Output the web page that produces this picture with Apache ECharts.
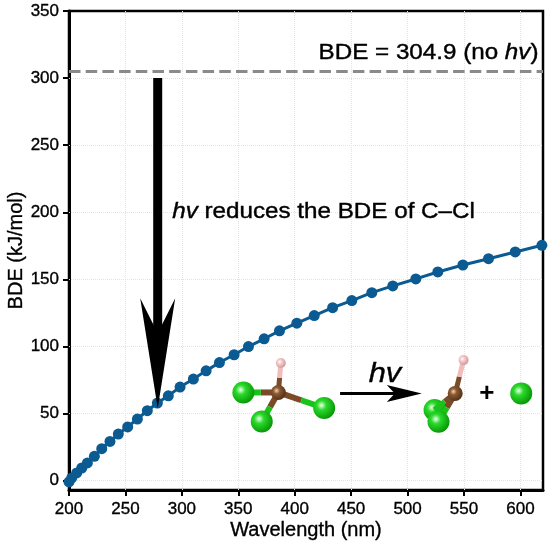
<!DOCTYPE html>
<html><head><meta charset="utf-8">
<script src="https://cdn.jsdelivr.net/npm/echarts@6/dist/echarts.min.js"></script>
<style>html,body{margin:0;padding:0;background:#fff}#c{width:550px;height:547px}</style>
</head><body><div id="c"></div>
<script>
// ---- data ----
const wavelength = [200, 202.4, 206.8, 211.3, 216.3, 222.5, 229, 236.3, 243.7, 252, 260.6, 269.4, 278.3, 288, 298.4, 310.2, 321.5, 333.3, 346.3, 359, 372.9, 386.5, 401.9, 417.3, 433.6, 450.6, 468.3, 486.9, 507.3, 526.8, 549, 571.7, 595.4, 619];
const bde = [-1, 2.0, 5.7, 9.4, 13.2, 18.1, 23.8, 29.2, 34.7, 40, 45.9, 52.1, 57.8, 63.2, 69.7, 75.7, 81.8, 88, 93.8, 99.9, 105.7, 111.6, 117.3, 123, 128.9, 134.2, 140.1, 145.1, 150.3, 155.5, 160.7, 165.4, 170.4, 175.4];
const xTicks = [200, 250, 300, 350, 400, 450, 500, 550, 600];
const yTicks = [0, 50, 100, 150, 200, 250, 300, 350];
const bdeNoLight = 304.9;
const labelNoLight = 'BDE = 304.9 (no {i|hv})';
const labelReduce = '{i|hv} reduces the BDE of C\u2013Cl';

const FONT = '"Liberation Sans", Arial, Helvetica, sans-serif';
const BLUE = '#0b5a91';

const chart = echarts.init(document.getElementById('c'));

const gridX = xTicks.filter(v => v > 200).map(v => ({ xAxis: v }));
const gridY = yTicks.filter(v => v < 350).map(v => ({ yAxis: v }));
const labelTextStyle = { fontSize: 17, color: '#000', fontFamily: FONT, textBorderColor: '#000', textBorderWidth: 0.35 };

chart.setOption({
  backgroundColor: '#fff',
  animation: false,
  grid: { left: 69, right: 7, top: 11, bottom: 57, show: true, borderColor: '#000', borderWidth: 2.5,
          containLabel: false, outerBoundsMode: 'none' },
  xAxis: {
    type: 'value', min: 200, max: 620,
    name: 'Wavelength (nm)', nameLocation: 'middle', nameGap: 30, nameMoveOverlap: false,
    nameTextStyle: { fontSize: 20, color: '#000', fontFamily: FONT, textBorderColor: '#000', textBorderWidth: 0.35 },
    axisLine: { show: true, onZero: false, lineStyle: { color: '#000', width: 3 } },
    axisTick: { show: true, inside: false, length: 6, customValues: xTicks, lineStyle: { color: '#000', width: 2 } },
    axisLabel: Object.assign({ margin: 11, customValues: xTicks }, labelTextStyle),
    splitLine: { show: false }
  },
  yAxis: {
    type: 'value', min: -7, max: 350,
    name: 'BDE (kJ/mol)', nameLocation: 'middle', nameGap: 43, nameMoveOverlap: false,
    nameTextStyle: { fontSize: 20, color: '#000', fontFamily: FONT, textBorderColor: '#000', textBorderWidth: 0.35 },
    axisLine: { show: true, onZero: false, lineStyle: { color: '#000', width: 3 } },
    axisTick: { show: true, inside: false, length: 6, customValues: yTicks, lineStyle: { color: '#000', width: 2 } },
    axisLabel: Object.assign({ margin: 10, customValues: yTicks }, labelTextStyle),
    splitLine: { show: false }
  },
  series: [
    {
      type: 'line', data: [], z: 1, silent: true,
      markLine: {
        z: 1, silent: true, symbol: 'none', label: { show: false }, animation: false,
        lineStyle: { color: '#e3e3e3', type: 'dotted', width: 1 },
        data: gridX.concat(gridY).concat([
          { yAxis: bdeNoLight, lineStyle: { color: '#8a8a8a', type: [11.5, 5.2], width: 3 } }
        ])
      }
    },
    {
      type: 'line', z: 3,
      data: wavelength.map((w, i) => [w, bde[i]]),
      symbol: 'circle', symbolSize: 11,
      lineStyle: { color: BLUE, width: 3 },
      itemStyle: { color: BLUE },
      clip: true
    }
  ]
});

// ---- annotations, positioned through the chart's scales ----
function P(x, y) { return chart.convertToPixel({ gridIndex: 0 }, [x, y]); }
const els = [];

// big downward arrow
(function () {
  const top = P(278.6, 300), tip = P(278.6, 54);
  const headLen = 110, headHalf = 17.5, notch = 75;
  els.push({ type: 'rect', z: 20, shape: { x: tip[0] - 4.5, y: top[1], width: 9, height: (tip[1] - notch + 4) - top[1] }, style: { fill: '#000' } });
  els.push({ type: 'polygon', z: 20, shape: { points: [[tip[0], tip[1]], [tip[0] - headHalf, tip[1] - headLen], [tip[0], tip[1] - notch], [tip[0] + headHalf, tip[1] - headLen]] }, style: { fill: '#000' } });
})();

function txt(x, y, text, size, align) {
  const p = P(x, y);
  els.push({
    type: 'text', z: 21, x: p[0], y: p[1], scaleX: 1.1, originX: 0, originY: 0,
    style: {
      text: text, fill: '#000', fontSize: size, fontFamily: FONT,
      stroke: '#000', lineWidth: 0.4,
      textAlign: align, textVerticalAlign: 'middle',
      rich: { i: { fontStyle: 'italic', fontSize: size, fontFamily: FONT, fill: '#000', stroke: '#000', lineWidth: 0.4 } }
    }
  });
}
txt(291.5, 200.3, labelReduce, 22, 'left');
txt(616, 318.5, labelNoLight, 22, 'right');

// molecules
const ATOM = {
  Cl: { r: 11, stops: ['#f0fff0', '#2ada2a', '#0a9a0a'], bond: '#19c419' },
  C: { r: 7.5, stops: ['#f5d2b0', '#8c5a32', '#56321a'], bond: '#7b4a26' },
  H: { r: 5, stops: ['#ffffff', '#f6cccc', '#d39a9a'], bond: '#f0bcbc' }
};
function atom(kind, x, y) {
  const p = P(x, y), a = ATOM[kind];
  els.push({ type: 'circle', z: 22, shape: { cx: p[0], cy: p[1], r: a.r },
    style: { fill: new echarts.graphic.RadialGradient(0.38, 0.38, 0.62, [
      { offset: 0, color: a.stops[0] }, { offset: 0.35, color: a.stops[1] }, { offset: 1, color: a.stops[2] }]) } });
}
function bond(k1, x1, y1, k2, x2, y2, w) {
  const p1 = P(x1, y1), p2 = P(x2, y2);
  const m = [(p1[0] + p2[0]) / 2, (p1[1] + p2[1]) / 2];
  els.push({ type: 'line', z: 22, shape: { x1: p1[0], y1: p1[1], x2: m[0], y2: m[1] }, style: { stroke: ATOM[k1].bond, lineWidth: w } });
  els.push({ type: 'line', z: 22, shape: { x1: m[0], y1: m[1], x2: p2[0], y2: p2[1] }, style: { stroke: ATOM[k2].bond, lineWidth: w } });
}
// left: CHCl3
const cL = [385.5, 65.7];
bond('C', cL[0], cL[1], 'H', 387.7, 87.6, 5);
bond('C', cL[0], cL[1], 'Cl', 354.5, 65.7, 6);
bond('C', cL[0], cL[1], 'Cl', 426.1, 54.1, 6);
bond('C', cL[0], cL[1], 'Cl', 370.8, 44.1, 6);
atom('H', 387.7, 87.6);
atom('Cl', 354.5, 65.7);
atom('Cl', 426.1, 54.1);
atom('Cl', 370.8, 44.1);
atom('C', cL[0], cL[1]);

// reaction arrow
(function () {
  const a = P(440.2, 65), t = P(512.6, 65);
  els.push({ type: 'line', z: 22, shape: { x1: a[0], y1: a[1], x2: t[0] - 25, y2: t[1] }, style: { stroke: '#000', lineWidth: 3 } });
  els.push({ type: 'polygon', z: 22, shape: { points: [[t[0], t[1]], [t[0] - 35, t[1] - 8.5], [t[0] - 27, t[1]], [t[0] - 35, t[1] + 8.5]] }, style: { fill: '#000' } });
})();
txt(465.5, 79.2, '{i|hv}', 28, 'left');

// right: CHCl2 + Cl
const cR = [542.2, 65.0];
atom('Cl', 523.9, 52.6);
bond('C', cR[0], cR[1], 'Cl', 523.9, 52.6, 6);
bond('C', cR[0], cR[1], 'Cl', 527.4, 43.9, 6);
bond('C', cR[0], cR[1], 'H', 549.6, 89.8, 5);
atom('Cl', 527.4, 43.9);
atom('H', 549.6, 89.8);
atom('C', cR[0], cR[1]);
(function () {
  const p = P(570.3, 65);
  els.push({ type: 'text', z: 22, x: p[0], y: p[1], style: { text: '+', fill: '#000', fontSize: 26, fontWeight: 'bold', fontFamily: FONT, textAlign: 'center', textVerticalAlign: 'middle' } });
})();
atom('Cl', 600.7, 65.0);

chart.setOption({ graphic: { elements: els } });
</script>
</body></html>
